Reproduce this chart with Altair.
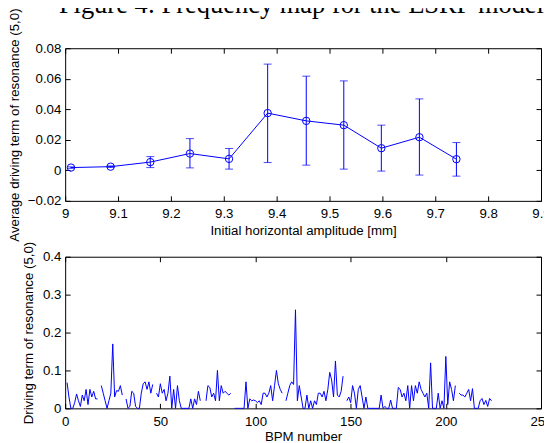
import altair as alt
import pandas as pd

# ---------------- text ----------------
FIG_TITLE = "Figure 4: Frequency map for the ESRF model."
TOP_XTITLE = "Initial horizontal amplitude [mm]"
TOP_YTITLE = "Average driving term of resonance (5,0)"
BOT_XTITLE = "BPM number"
BOT_YTITLE = "Driving term of resonance (5,0)"

# ---------------- top panel data ----------------
amp_mm = [9.011, 9.086, 9.161, 9.236, 9.310, 9.383, 9.456, 9.527, 9.598, 9.670, 9.740]
avg_term = [0.0018, 0.0024, 0.0054, 0.0110, 0.0075, 0.0375, 0.0324, 0.0296, 0.0145, 0.0217, 0.0073]
err_low = [0.0013, 0.0019, 0.0018, 0.0016, 0.0008, 0.0051, 0.0034, 0.0008, -0.0005, -0.0031, -0.0038]
err_high = [0.0023, 0.0029, 0.0090, 0.0208, 0.0143, 0.0696, 0.0617, 0.0586, 0.0296, 0.0468, 0.0182]

top_xticks = [9.0, 9.1, 9.2, 9.3, 9.4, 9.5, 9.6, 9.7, 9.8, 9.9]
top_yticks = [-0.02, 0.0, 0.02, 0.04, 0.06, 0.08]

# ---------------- bottom panel data (BPM 1..224, None = gap) ----------------
bpm_term = [
    0.068, 0.03, 0.0, 0.0, 0.015, 0.038, 0.02, 0.005, 0.035, 0.02,      # 1-10
    0.05, 0.01, 0.05, 0.03, 0.045, 0.025, 0.025, None, 0.06, 0.04,       # 11-20
    0.02, 0.0, 0.02, 0.04, 0.17, 0.03, 0.047, 0.045, 0.06, 0.035,        # 21-30
    None, 0.025, 0.0, 0.005, 0.045, 0.04, 0.005, 0.0, 0.0, 0.04,         # 31-40
    0.065, 0.07, 0.05, 0.07, 0.04, 0.063, None, 0.04, 0.03, 0.065,       # 41-50
    0.04, 0.05, 0.02, 0.04, 0.085, 0.0, 0.05, 0.0, 0.06, 0.02,           # 51-60
    0.0, 0.0, 0.0, 0.0, 0.0, 0.025, 0.0, 0.025, 0.01, 0.045,             # 61-70
    0.02, None, None, 0.02, 0.06, 0.055, 0.03, 0.04, 0.02, 0.1,          # 71-80
    0.02, 0.06, 0.04, 0.045, 0.04, 0.035, 0.04, None, 0.0, 0.0,          # 81-90
    0.0, 0.0, 0.0, 0.0, 0.07, 0.0, 0.025, 0.02, 0.022, 0.02,             # 91-100
    0.015, 0.02, 0.01, 0.04, 0.04, 0.03, 0.04, 0.06, 0.02, 0.06,         # 101-110
    0.1, 0.065, 0.05, 0.04, None, 0.02, 0.04, 0.06, 0.07, 0.063,         # 111-120
    0.26, 0.02, 0.06, 0.03, 0.0, 0.0, 0.035, 0.0, 0.02, 0.0,             # 121-130
    0.02, 0.01, 0.04, 0.04, 0.03, 0.045, 0.02, 0.05, 0.095, 0.075,       # 131-140
    0.03, 0.125, 0.035, 0.03, 0.045, 0.085, None, 0.02, 0.03, 0.015,     # 141-150
    0.06, 0.04, 0.0, 0.05, 0.06, 0.03, 0.0, 0.03, 0.0, 0.0,              # 151-160
    0.0, 0.0, 0.0, 0.0, 0.0, 0.035, 0.0, 0.005, 0.0, 0.0,                # 161-170
    0.022, 0.0, 0.0, 0.0, 0.055, 0.05, 0.03, 0.04, 0.02, 0.06,           # 171-180
    0.0, 0.06, 0.02, 0.06, 0.04, 0.07, 0.05, 0.04, 0.03, 0.04,           # 181-190
    0.0, 0.12, 0.0, 0.0, 0.0, 0.04, 0.0, 0.02, 0.0, 0.137,               # 191-200
    0.01, 0.07, 0.05, 0.02, 0.06, None, 0.04, 0.035, 0.035, 0.03,        # 201-210
    0.04, 0.05, 0.02, 0.052, 0.0, 0.0, 0.0, 0.02, 0.026, 0.01,           # 211-220
    0.021, 0.005, 0.026, 0.02,                                           # 221-224
]
bot_xticks = [0, 50, 100, 150, 200, 250]
bot_yticks = [0.0, 0.1, 0.2, 0.3, 0.4]

# ---------------- style ----------------
FONT = "Liberation Sans"
BLUE = "#0000ff"
FS = 13.3
TICK_IN = {"expr": "-5"}


def make_axis(orient, values, fmt=None, labels=True, **kw):
    d = dict(
        orient=orient, values=values, grid=False,
        domain=True, domainColor="black", domainWidth=1,
        ticks=True, tickColor="black", tickWidth=1, tickSize=TICK_IN,
        labels=labels, labelFlush=False, labelOverlap=False,
        labelFont=FONT, labelFontSize=FS, labelColor="black",
        titleFont=FONT, titleFontSize=FS, titleColor="black", titleFontWeight="normal",
    )
    if fmt:
        d["format"] = fmt
    d.update(kw)
    return alt.Axis(**d)


# ---------------- top panel ----------------
top_df = pd.DataFrame({"amp": amp_mm, "avg": avg_term, "lo": err_low, "hi": err_high})
tx = alt.Scale(domain=[9.0, 9.9], nice=False, zero=False)
ty = alt.Scale(domain=[-0.02, 0.08], nice=False, zero=False)
tb = alt.Chart(top_df)

top_mirror = tb.mark_point(opacity=0).encode(
    x=alt.X("amp:Q", scale=tx, axis=make_axis("top", top_xticks, labels=False, title=None)),
    y=alt.Y("avg:Q", scale=ty, axis=make_axis("right", top_yticks, labels=False, title=None)),
)
top_err = tb.mark_rule(color=BLUE, strokeWidth=1).encode(
    x=alt.X("amp:Q", scale=tx, axis=None),
    y=alt.Y("lo:Q", scale=ty, axis=None),
    y2="hi:Q",
)
cap_lo = tb.mark_tick(color=BLUE, orient="horizontal", size=8, thickness=1).encode(
    x=alt.X("amp:Q", scale=tx, axis=None),
    y=alt.Y("lo:Q", scale=ty, axis=None),
)
cap_hi = tb.mark_tick(color=BLUE, orient="horizontal", size=8, thickness=1).encode(
    x=alt.X("amp:Q", scale=tx, axis=None),
    y=alt.Y("hi:Q", scale=ty, axis=None),
)
top_line = tb.mark_line(color=BLUE, strokeWidth=1).encode(
    x=alt.X("amp:Q", scale=tx, axis=make_axis(
        "bottom", top_xticks, ".1~f", title=TOP_XTITLE, labelPadding=11,
        titleY=34, titleBaseline="alphabetic")),
    y=alt.Y("avg:Q", scale=ty, axis=make_axis(
        "left", top_yticks, ".2~f", title=TOP_YTITLE, labelPadding=9.3,
        labelExpr="datum.value === 0 ? '0\u2002' : datum.label",
        titleAngle=270, titleAlign="center", titleBaseline="alphabetic",
        titleX=-46.5, titleY=76.5)),
)
top_pts = tb.mark_point(shape="circle", filled=False, size=55, color=BLUE,
                        strokeWidth=1, opacity=1).encode(
    x=alt.X("amp:Q", scale=tx, axis=None),
    y=alt.Y("avg:Q", scale=ty, axis=None),
)
# figure caption line above the top panel (partly cut by the page edges, as in the reference)
fig_title = alt.Chart(pd.DataFrame({"t": [FIG_TITLE]})).mark_text(
    font="Liberation Serif", fontSize=26.5, color="black", align="left",
    baseline="alphabetic", limit=488, ellipsis="\u200b",
).encode(text="t:N", x=alt.value(-6.3), y=alt.value(-34.9))

top = alt.layer(top_mirror, top_err, cap_lo, cap_hi, top_line, top_pts, fig_title).resolve_axis(
    x="independent", y="independent").properties(width=477, height=153)

# ---------------- bottom panel ----------------
rows = []
seg = 0
for i, v in enumerate(bpm_term):
    if v is None:
        seg += 1
        continue
    rows.append({"bpm": i + 1, "term": v, "seg": seg})
bot_df = pd.DataFrame(rows)
bx = alt.Scale(domain=[0, 250], nice=False, zero=False)
by = alt.Scale(domain=[0, 0.4], nice=False, zero=False)
bb = alt.Chart(bot_df)

bot_mirror = bb.mark_point(opacity=0).encode(
    x=alt.X("bpm:Q", scale=bx, axis=make_axis("top", bot_xticks, labels=False, title=None)),
    y=alt.Y("term:Q", scale=by, axis=make_axis("right", bot_yticks, labels=False, title=None)),
)
bot_line = bb.mark_line(color=BLUE, strokeWidth=1).encode(
    x=alt.X("bpm:Q", scale=bx, axis=make_axis(
        "bottom", bot_xticks, "d", title=BOT_XTITLE, labelPadding=11,
        titleY=32.2, titleBaseline="alphabetic")),
    y=alt.Y("term:Q", scale=by, axis=make_axis(
        "left", bot_yticks, ".1~f", title=BOT_YTITLE, labelPadding=9.3,
        titleAngle=270, titleAlign="center", titleBaseline="alphabetic",
        titleX=-32.8, titleY=76)),
    detail="seg:N",
)
bottom = alt.layer(bot_mirror, bot_line).resolve_axis(
    x="independent", y="independent").properties(width=477, height=152)

chart = alt.vconcat(top, bottom, spacing=56, bounds="flush").properties(
    padding={"expr": "{top: -16.2, left: -0.7, right: -9, bottom: 0}"},
).configure_view(strokeWidth=0)

chart.save("out.html", embed_options={"renderer": "svg", "actions": False})
